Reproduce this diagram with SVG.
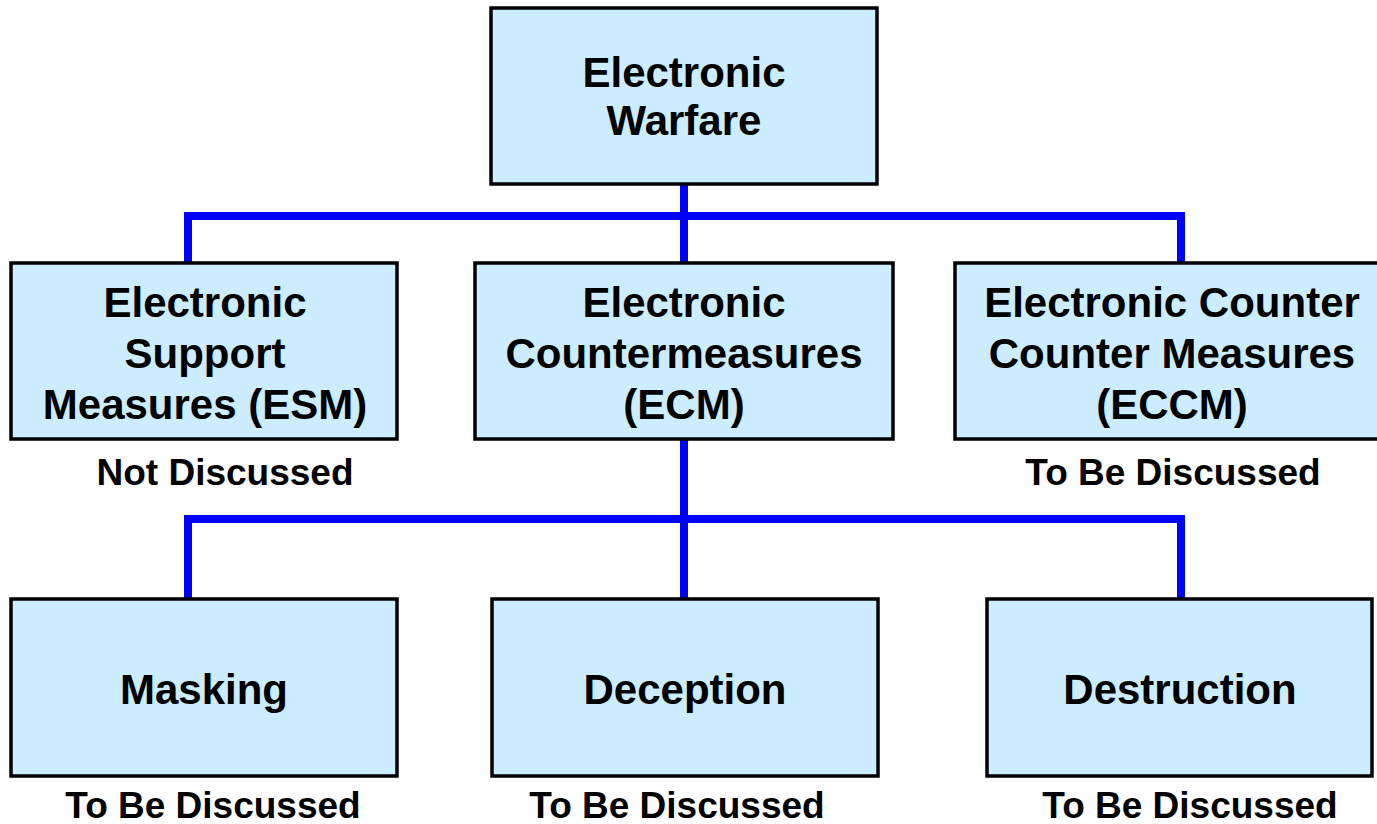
<svg xmlns="http://www.w3.org/2000/svg" width="1377" height="824" viewBox="0 0 1377 824">
<style>
.box{fill:#CCECFF;stroke:#000;stroke-width:3.5}
.t{font-family:"Liberation Sans",Arial,sans-serif;font-weight:bold;font-size:42px;fill:#000;text-anchor:middle}
.l{font-family:"Liberation Sans",Arial,sans-serif;font-weight:bold;font-size:37px;fill:#000;text-anchor:middle}
.c{stroke:#0000FF;stroke-width:8;fill:none;stroke-linecap:butt}
</style>
<rect width="1377" height="824" fill="#fff"/>
<g id="connectors">
<path class="c" d="M684 184V216M188 216H1181M188 212V263M684 216V263M1181 212V263"/>
<path class="c" d="M684 439V599M188 519H1181M188 515V599M1181 515V599"/>
</g>
<g id="ew">
<rect class="box" x="491" y="8" width="386" height="176"/>
<text class="t" x="684" y="87">Electronic</text>
<text class="t" x="684" y="135">Warfare</text>
</g>
<g id="esm">
<rect class="box" x="11" y="263" width="386" height="176"/>
<text class="t" x="205" y="317">Electronic</text>
<text class="t" x="205" y="368">Support</text>
<text class="t" x="205" y="419">Measures (ESM)</text>
<text class="l" x="225" y="485">Not Discussed</text>
</g>
<g id="ecm">
<rect class="box" x="475" y="263" width="418" height="176"/>
<text class="t" x="684" y="317">Electronic</text>
<text class="t" x="684" y="368">Countermeasures</text>
<text class="t" x="684" y="419">(ECM)</text>
</g>
<g id="eccm">
<rect class="box" x="955" y="263" width="430" height="176"/>
<text class="t" x="1172" y="317">Electronic Counter</text>
<text class="t" x="1172" y="368">Counter Measures</text>
<text class="t" x="1172" y="419">(ECCM)</text>
<text class="l" x="1173" y="485">To Be Discussed</text>
</g>
<g id="masking">
<rect class="box" x="11" y="599" width="386" height="177"/>
<text class="t" x="204" y="704">Masking</text>
<text class="l" x="213" y="818">To Be Discussed</text>
</g>
<g id="deception">
<rect class="box" x="492" y="599" width="386" height="177"/>
<text class="t" x="685" y="704">Deception</text>
<text class="l" x="677" y="818">To Be Discussed</text>
</g>
<g id="destruction">
<rect class="box" x="987" y="599" width="385" height="177"/>
<text class="t" x="1180" y="704">Destruction</text>
<text class="l" x="1190" y="818">To Be Discussed</text>
</g>
</svg>
